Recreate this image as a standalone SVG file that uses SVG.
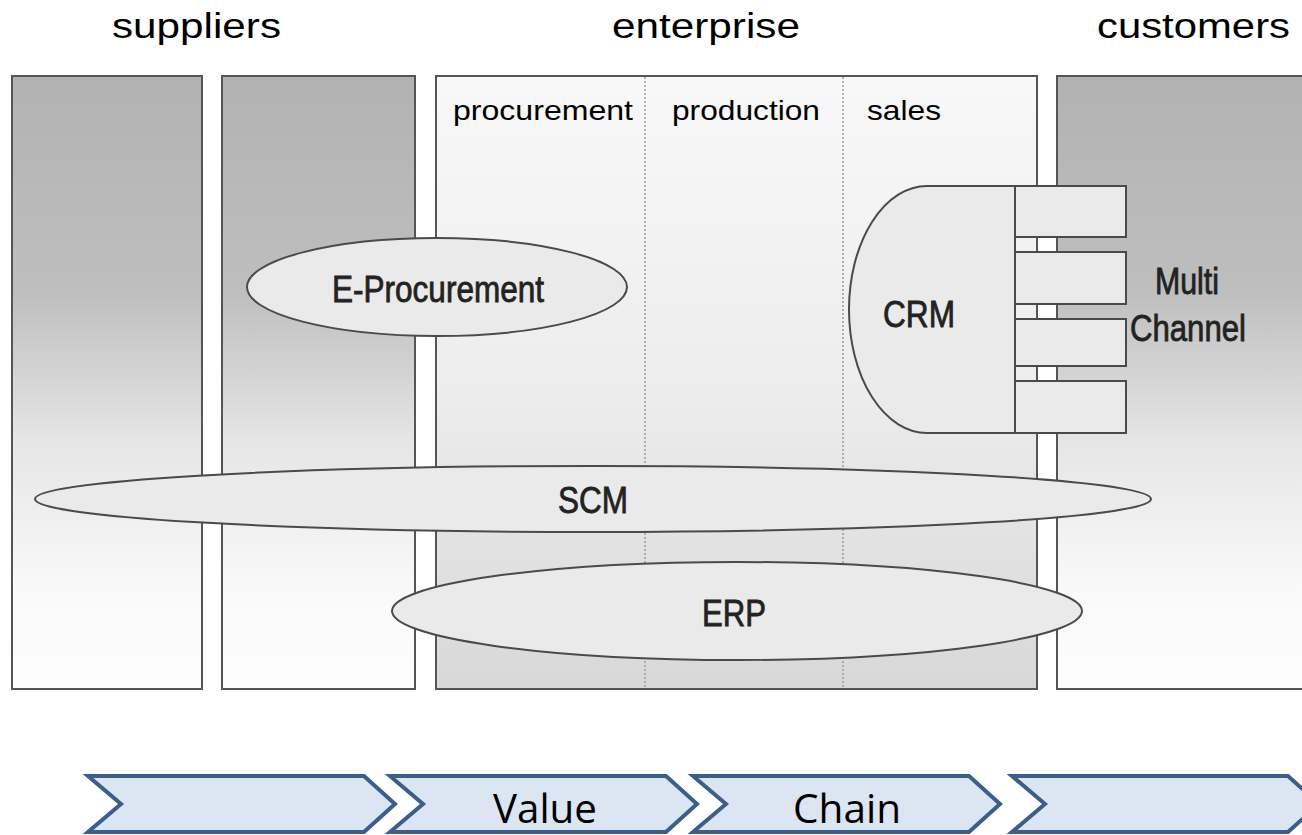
<svg xmlns="http://www.w3.org/2000/svg" width="1302" height="835" viewBox="0 0 1302 835">
<defs>
<linearGradient id="gSide" x1="0" y1="0" x2="0" y2="1">
<stop offset="0" stop-color="#b2b2b2"/>
<stop offset="0.35" stop-color="#bebebe"/>
<stop offset="0.6" stop-color="#e6e6e6"/>
<stop offset="0.85" stop-color="#fafafa"/>
<stop offset="1" stop-color="#fdfdfd"/>
</linearGradient>
<linearGradient id="gMid" x1="0" y1="0" x2="0" y2="1">
<stop offset="0" stop-color="#f8f8f8"/>
<stop offset="0.5" stop-color="#ededed"/>
<stop offset="1" stop-color="#d8d8d8"/>
</linearGradient>
<style>
.panel{stroke:#555;stroke-width:2}
.side{fill:url(#gSide)}
.mid{fill:url(#gMid)}
.div{stroke:#9a9a9a;stroke-width:1.5;stroke-dasharray:2 2;fill:none}
.shape{fill:#eaeaea;stroke:#4a4a4a;stroke-width:2}
.hdr{font-family:"Liberation Sans",Arial,sans-serif;font-size:35px;fill:#000}
.sub{font-family:"Liberation Sans",Arial,sans-serif;font-size:28px;fill:#000}
.lbl{font-family:"Liberation Sans",Arial,sans-serif;font-size:36px;fill:#222;stroke:#222;stroke-width:0.8}
.chev{fill:#dce6f2;stroke:#3b5f8c;stroke-width:4}
.ctx{font-family:"Open Sans",sans-serif;font-size:40px;fill:#000}
</style>
</defs>
<g id="titles">
<text class="hdr" x="112" y="38" textLength="169" lengthAdjust="spacingAndGlyphs">suppliers</text>
<text class="hdr" x="612" y="38" textLength="188" lengthAdjust="spacingAndGlyphs">enterprise</text>
<text class="hdr" x="1097" y="38" textLength="193" lengthAdjust="spacingAndGlyphs">customers</text>
</g>
<g id="panel-supplier1"><rect class="panel side" x="12" y="76" width="190" height="613"/></g>
<g id="panel-supplier2"><rect class="panel side" x="222" y="76" width="193" height="613"/></g>
<g id="panel-enterprise">
<rect class="panel mid" x="436" y="76" width="601" height="613"/>
<line class="div" x1="645" y1="77" x2="645" y2="688"/>
<line class="div" x1="843" y1="77" x2="843" y2="688"/>
<text class="sub" x="453" y="120" textLength="180" lengthAdjust="spacingAndGlyphs">procurement</text>
<text class="sub" x="672" y="120" textLength="148" lengthAdjust="spacingAndGlyphs">production</text>
<text class="sub" x="867" y="120" textLength="74" lengthAdjust="spacingAndGlyphs">sales</text>
</g>
<g id="panel-customers"><rect class="panel side" x="1057" y="76" width="260" height="613"/></g>
<g id="e-procurement">
<ellipse class="shape" cx="437" cy="287" rx="190" ry="49"/>
<text class="lbl" x="332" y="302" textLength="212" lengthAdjust="spacingAndGlyphs">E-Procurement</text>
</g>
<g id="crm">
<path class="shape" d="M1015,186 H927 A78,123.5 0 0 0 927,433 H1015 Z"/>
<text class="lbl" x="883" y="327" textLength="72" lengthAdjust="spacingAndGlyphs">CRM</text>
</g>
<g id="multi-channel">
<rect class="shape" x="1015" y="186" width="111" height="51"/>
<rect class="shape" x="1015" y="252" width="111" height="52"/>
<rect class="shape" x="1015" y="319" width="111" height="47"/>
<rect class="shape" x="1015" y="381" width="111" height="52"/>
<text class="lbl" x="1155" y="294" textLength="64" lengthAdjust="spacingAndGlyphs">Multi</text>
<text class="lbl" x="1130" y="341" textLength="116" lengthAdjust="spacingAndGlyphs">Channel</text>
</g>
<g id="scm">
<ellipse class="shape" cx="593" cy="499" rx="558" ry="33"/>
<text class="lbl" x="558" y="513" textLength="70" lengthAdjust="spacingAndGlyphs">SCM</text>
</g>
<g id="erp">
<ellipse class="shape" cx="737" cy="611" rx="345" ry="49"/>
<text class="lbl" x="702" y="626" textLength="64" lengthAdjust="spacingAndGlyphs">ERP</text>
</g>
<g id="value-chain">
<polygon class="chev" points="88,776 364,776 395,804 364,832 88,832 121,804"/>
<polygon class="chev" points="390,776 666,776 697,804 666,832 390,832 423,804"/>
<polygon class="chev" points="693,776 969,776 1000,804 969,832 693,832 726,804"/>
<polygon class="chev" points="1012,776 1288,776 1319,804 1288,832 1012,832 1045,804"/>
<text class="ctx" x="493" y="823" textLength="104" lengthAdjust="spacingAndGlyphs">Value</text>
<text class="ctx" x="793" y="823" textLength="108" lengthAdjust="spacingAndGlyphs">Chain</text>
</g>
<g id="connectors"/>
</svg>
